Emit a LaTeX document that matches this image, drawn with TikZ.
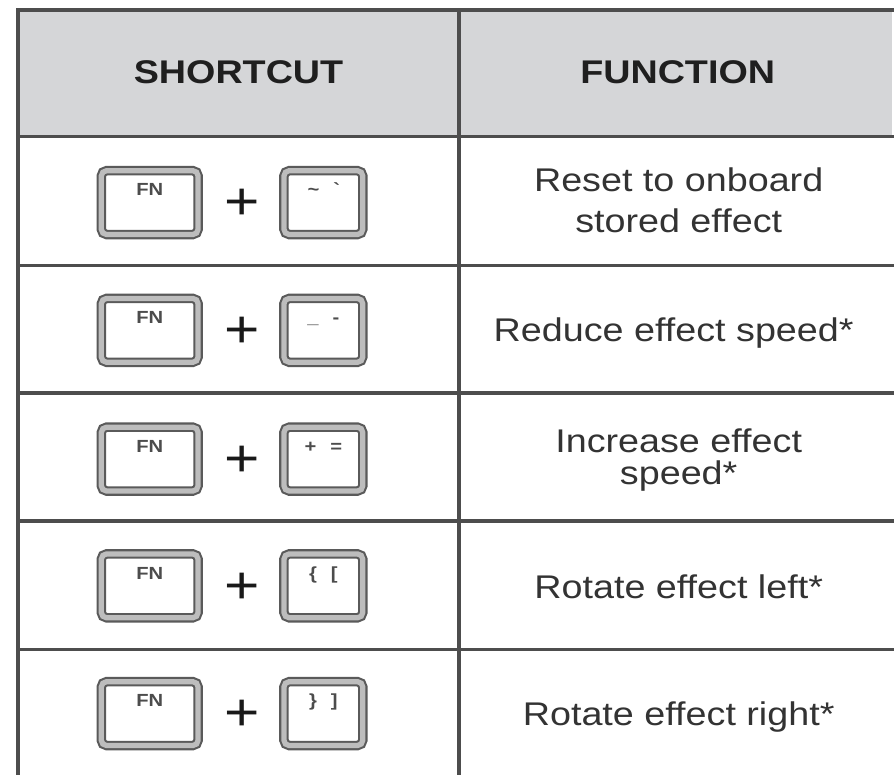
\documentclass[tikz,border=0pt]{standalone}
\usepackage{fontspec}
\setmainfont{Liberation Sans}[FakeStretch=1.15]
\usepackage{tikz}
\usetikzlibrary{positioning}

\definecolor{linegray}{HTML}{4D4D4D}
\definecolor{headgray}{HTML}{D5D6D8}
\definecolor{capgray}{HTML}{BDBDBD}
\definecolor{edgegray}{HTML}{5A5A5A}
\definecolor{inkgray}{HTML}{333333}

\begin{document}
\begin{tikzpicture}[x=0.02cm,y=-0.02cm,
  tableline/.style={draw=linegray,line width=2pt,line cap=rect},
  headtext/.style={font=\fontsize{18.7}{22}\selectfont\bfseries,text=black!88,anchor=base},
  functext/.style={font=\fontsize{18.7}{23.2}\selectfont,text=inkgray,align=center,anchor=base},
  keycap/.style={draw=edgegray,line width=1.2pt,double=capgray,double distance=3pt,fill=white,
    rounded corners=3pt,inner sep=0pt,minimum height=1.28cm,
    font=\fontsize{10}{10}\selectfont\bfseries,text=black!70,text height=7.2pt,text depth=15pt},
  fnkey/.style={keycap,minimum width=1.94cm},
  symkey/.style={keycap,minimum width=1.58cm},
  plus/.style={font=\fontsize{30}{30}\selectfont,text=black!90,inner sep=0pt}]

% page
\fill[white] (0,0) rectangle (894,775);

% header
\fill[headgray] (18,10) rectangle (894,137);
\node[headtext] (shortcut) at (239,84) {SHORTCUT};
\node[headtext] (function) at (679,84) {FUNCTION};

% rules
\draw[tableline] (18,10) -- (894,10);
\draw[tableline] (18,137) -- (894,137);
\draw[tableline] (18,266) -- (894,266);
\draw[tableline] (18,394) -- (894,394);
\draw[tableline] (18,522) -- (894,522);
\draw[tableline] (18,651) -- (894,651);
\draw[tableline] (18,10) -- (18,775);
\draw[tableline] (460,10) -- (460,775);

% row 1
\node[fnkey] (fnA) at (150,203) {FN};
\node[plus] (plusA) at (243,205) {+};
\node[symkey] (keyA) at (324,203) {\textasciitilde\hspace{8pt}\textasciigrave};
\node[functext] (resetA) at (680,233) {Reset to onboard\\stored effect};

% row 2
\node[fnkey] (fnB) at (150,331) {FN};
\node[plus] (plusB) at (243,333) {+};
\node[symkey] (keyB) at (324,331) {\_\hspace{8pt}-};
\node[functext] (reduceB) at (675,342) {Reduce effect speed*};

% row 3
\node[fnkey] (fnC) at (150,460) {FN};
\node[plus] (plusC) at (243,462) {+};
\node[symkey] (keyC) at (324,460) {+\hspace{8pt}=};
\node[functext] (increaseC) at (680,485) {Increase effect\\[-5pt]speed*};

% row 4
\node[fnkey] (fnD) at (150,587) {FN};
\node[plus] (plusD) at (243,589) {+};
\node[symkey] (keyD) at (324,587) {\{\hspace{8pt}[};
\node[functext] (leftD) at (680,600) {Rotate effect left*};

% row 5
\node[fnkey] (fnE) at (150,715) {FN};
\node[plus] (plusE) at (243,717) {+};
\node[symkey] (keyE) at (324,715) {\}\hspace{8pt}]};
\node[functext] (rightE) at (680,727) {Rotate effect right*};

\end{tikzpicture}
\end{document}
